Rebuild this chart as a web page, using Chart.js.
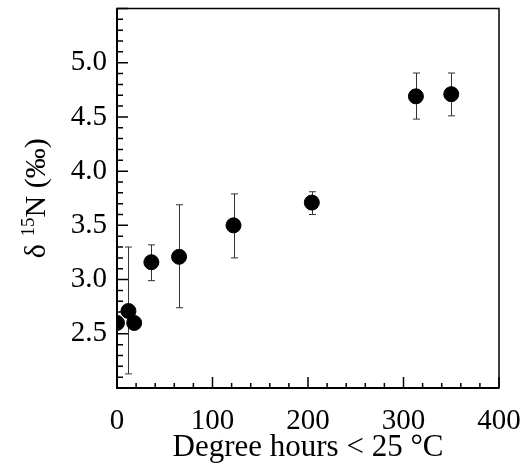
<!DOCTYPE html>
<html>
<head>
<title>d15N vs degree hours</title>
<script src="https://cdn.jsdelivr.net/npm/chart.js@4"></script>
<style>
  body {margin: 0; background: #fff;}
  .chart {width: 526px; height: 467px;}
</style>
</head>
<body>
<div class="chart">
 <canvas id="d15n"></canvas>
</div>
<script>

// values
var degreeHours = [0, 12, 18, 36, 65, 122, 204, 313, 350];
var d15n = [2.60, 2.71, 2.60, 3.16, 3.21, 3.50, 3.71, 4.69, 4.71];
var errLow = [null, 2.13, null, 2.99, 2.74, 3.20, 3.60, 4.48, 4.51];
var errHigh = [null, 3.30, null, 3.32, 3.69, 3.79, 3.81, 4.905, 4.905];

var serif = "'Liberation Serif', 'Times New Roman', serif";

//error bars, drawn under the markers
var errorBars = {
  id: 'errorBars',
  beforeDatasetsDraw: function(chart) {
    var ctx = chart.ctx, x = chart.scales.x, y = chart.scales.y;
    ctx.save();
    ctx.strokeStyle = '#333';
    ctx.lineWidth = 1;
    for (var i = 0; i < degreeHours.length; i++) {
      if (errLow[i] == null) continue;
      var px = Math.round(x.getPixelForValue(degreeHours[i])) + 0.5;
      var lo = y.getPixelForValue(errLow[i]);
      var hi = y.getPixelForValue(errHigh[i]);
      ctx.beginPath();
      ctx.moveTo(px, lo); ctx.lineTo(px, hi);
      ctx.moveTo(px - 3.5, lo); ctx.lineTo(px + 3.5, lo);
      ctx.moveTo(px - 3.5, hi); ctx.lineTo(px + 3.5, hi);
      ctx.stroke();
    }
    ctx.restore();
  }
};

//frame, inward ticks and the y title with its superscript
var frame = {
  id: 'frame',
  afterDraw: function(chart) {
    var ctx = chart.ctx, a = chart.chartArea, x = chart.scales.x, y = chart.scales.y;
    ctx.save();
    ctx.strokeStyle = '#000';
    ctx.lineWidth = 1.5;
    ctx.strokeRect(a.left, a.top, a.right - a.left, a.bottom - a.top);
    ctx.lineWidth = 2;
    ctx.beginPath();
    ctx.moveTo(a.left, a.top); ctx.lineTo(a.left, a.bottom); ctx.lineTo(a.right, a.bottom);
    ctx.stroke();

    ctx.lineWidth = 1.5;
    ctx.beginPath();
    for (var v = 0; v <= 400; v += 20) {
      var px = x.getPixelForValue(v);
      var len = v % 100 === 0 ? 11 : 5;
      ctx.moveTo(px, a.bottom); ctx.lineTo(px, a.bottom - len);
    }
    for (var k = 20; k <= 55; k++) {
      var py = y.getPixelForValue(k / 10);
      var ylen = k % 5 === 0 ? 11 : 6;
      ctx.moveTo(a.left, py); ctx.lineTo(a.left + ylen, py);
    }
    ctx.stroke();

    // y axis title: δ 15N (‰)
    var big = '30px ' + serif, small = '19px ' + serif;
    ctx.font = big;
    var w1 = ctx.measureText('\u03b4 ').width;
    var w3 = ctx.measureText('N (\u2030)').width;
    ctx.font = small;
    var w2 = ctx.measureText('15').width;
    var total = w1 + w2 + w3;
    ctx.translate(45, (a.top + a.bottom) / 2);
    ctx.rotate(-Math.PI / 2);
    ctx.fillStyle = '#000';
    ctx.textBaseline = 'alphabetic';
    ctx.textAlign = 'left';
    var sx = -total / 2;
    ctx.font = big;
    ctx.fillText('\u03b4 ', sx, 0);
    ctx.font = small;
    ctx.fillText('15', sx + w1, -11);
    ctx.font = big;
    ctx.fillText('N (\u2030)', sx + w1 + w2, 0);
    ctx.restore();
  }
};

//no room reserved for overhanging tick labels, keep the plot box fixed
function noOverhang(s) {
  s.paddingTop = 0; s.paddingBottom = 0; s.paddingLeft = 0; s.paddingRight = 0;
}

new Chart(document.getElementById('d15n'), {
  type: 'scatter',
  data: {
    datasets: [{
      data: degreeHours.map(function(v, i) { return {x: v, y: d15n[i]}; }),
      backgroundColor: '#000',
      borderColor: '#000',
      pointRadius: 7.5,
      pointHoverRadius: 7.5,
      showLine: false
    }]
  },
  options: {
    responsive: true,
    maintainAspectRatio: false,
    animation: false,
    layout: {padding: {top: 7, right: 27, left: 0, bottom: 0}},
    plugins: {legend: {display: false}, tooltip: {enabled: false}},
    scales: {
      x: {
        type: 'linear',
        min: 0,
        max: 400,
        grid: {display: false, drawTicks: false},
        border: {display: false},
        ticks: {stepSize: 100, padding: 16, color: '#000', font: {family: serif, size: 29}},
        title: {display: true, text: 'Degree hours < 25 \u00b0C', color: '#000',
                font: {family: serif, size: 31}, padding: {top: 0, bottom: 1}},
        afterFit: function(s) { s.height = 79; noOverhang(s); }
      },
      y: {
        min: 2.0,
        max: 5.5,
        grid: {display: false, drawTicks: false},
        border: {display: false},
        ticks: {
          stepSize: 0.5,
          padding: 10,
          color: '#000',
          font: {family: serif, size: 29},
          callback: function(v) { return (v < 2.4 || v > 5.1) ? '' : v.toFixed(1); }
        },
        afterFit: function(s) { s.width = 117; noOverhang(s); }
      }
    }
  },
  plugins: [errorBars, frame]
});

</script>
</body>
</html>
